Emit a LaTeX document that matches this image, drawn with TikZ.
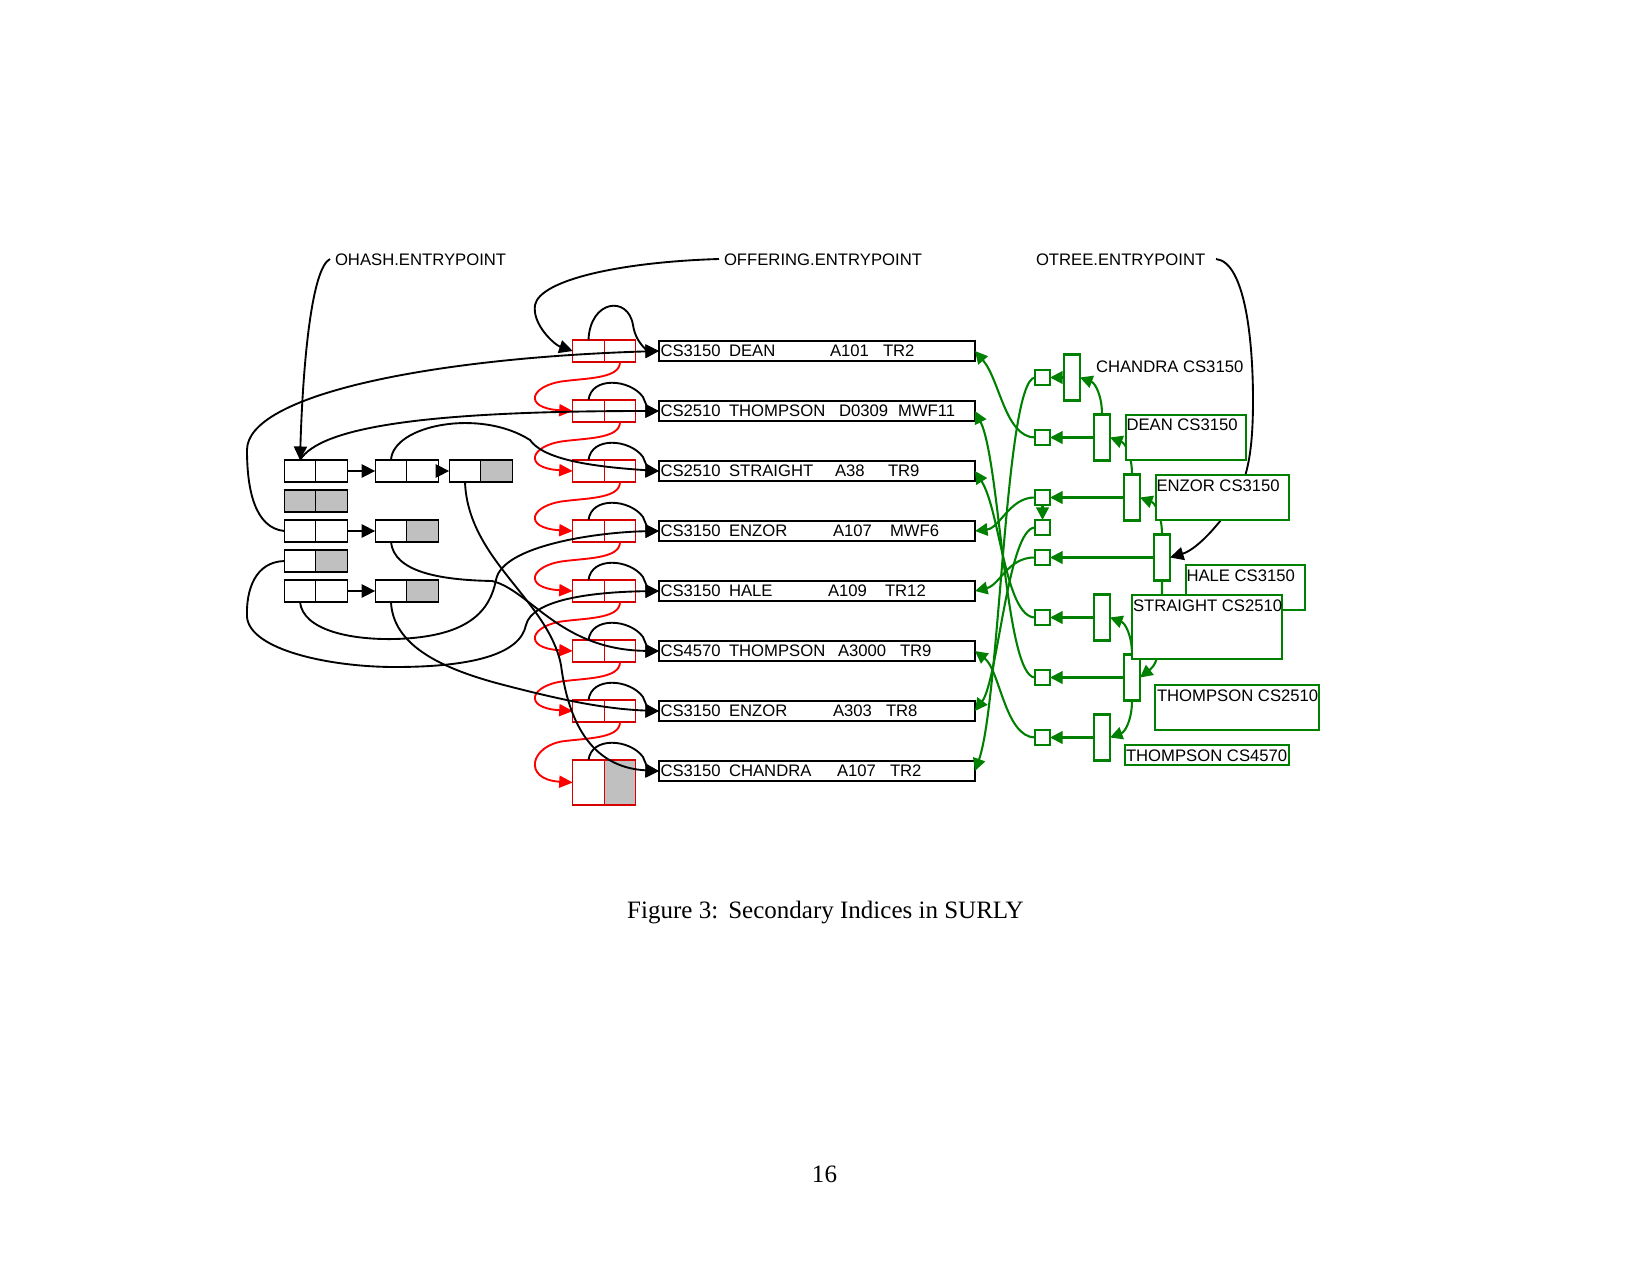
\documentclass[tikz,border=0pt]{standalone}
\usepackage{fontspec}
\setmainfont{Liberation Serif}
\newfontfamily\arialf{Liberation Sans}
\usetikzlibrary{arrows.meta}
\def\pu{0.4797pt}
\definecolor{gr}{RGB}{0,128,0}
\definecolor{silv}{RGB}{192,192,192}
\definecolor{rbox}{RGB}{215,0,0}
\tikzset{
 base/.style={inner sep=0pt, outer sep=0pt},
 hc/.style={base, draw, line width=0.7pt, minimum width=31.5*\pu, minimum height=22*\pu},
 hg/.style={hc, fill=silv},
 rc/.style={base, draw=rbox, line width=0.6pt, minimum width=31.5*\pu, minimum height=22*\pu},
 recbox/.style={base, draw, line width=0.9pt, minimum width=316*\pu, minimum height=20*\pu},
 sqn/.style={base, draw=gr, line width=1pt, minimum width=15*\pu, minimum height=15*\pu},
 tnode/.style={base, draw=gr, line width=1pt, minimum width=16*\pu, minimum height=46*\pu},
 lbox/.style={base, draw=gr, line width=0.5pt, fill=white, anchor=north west},
 txt/.style={base, anchor=base west, font=\arialf\fontsize{8}{9.6}\selectfont},
 blk/.style={black, line width=0.9pt, -{Triangle[length=6.5pt,width=6.3pt]}},
 rarr/.style={red, line width=0.9pt, -{Triangle[length=6.5pt,width=5.8pt]}},
 garr/.style={gr, line width=1pt, -{Triangle[length=6pt,width=6pt]}},
}
\begin{document}
\begin{tikzpicture}[x=\pu,y=-\pu]
\useasboundingbox (0,0) rectangle (1651,1275);

% titles
\node[txt] (ohash) at (335,265) {OHASH.ENTRYPOINT};
\node[txt] (offer) at (724,265) {OFFERING.ENTRYPOINT};
\node[txt] (otree) at (1036,265) {OTREE.ENTRYPOINT};
\coordinate (ohS) at (330,259);
\coordinate (ofS) at (719,259);
\coordinate (otS) at (1216,259);

% records
\foreach \i/\va/\vb/\vc/\vd/\ve/\vf in {
1/CS3150/DEAN/A101/830/TR2/883,
2/CS2510/THOMPSON/D0309/839/MWF11/898,
3/CS2510/STRAIGHT/A38/835/TR9/888,
4/CS3150/ENZOR/A107/833/MWF6/890,
5/CS3150/HALE/A109/828/TR12/885,
6/CS4570/THOMPSON/A3000/838/TR9/900,
7/CS3150/ENZOR/A303/833/TR8/886,
8/CS3150/CHANDRA/A107/837/TR2/890}{
 \pgfmathsetmacro\yc{351+60*(\i-1)}
 \node[recbox] (rec\i) at (817,\yc) {};
 \node[txt] (rcA\i) at (660.5,{\yc+5.5}) {\va};
 \node[txt] (rcB\i) at (729,{\yc+5.5}) {\vb};
 \node[txt] (rcC\i) at (\vd,{\yc+5.5}) {\vc};
 \node[txt] (rcD\i) at (\vf,{\yc+5.5}) {\ve};
}

% red offering list cells
\foreach \i in {1,...,7}{
 \pgfmathsetmacro\yc{351+60*(\i-1)}
 \node[rc] (rl\i) at (588.5,\yc) {};
 \node[rc] (rr\i) at (620,\yc) {};
}
\node[rc, minimum height=45*\pu] (rl8) at (588.5,782.5) {};
\node[rc, minimum height=45*\pu, fill=silv] (rr8) at (620,782.5) {};

% hash table
\node[hc] (h11a) at (300,471) {}; \node[hc] (h11b) at (331.5,471) {};
\node[hc] (h12a) at (391,471) {}; \node[hc] (h12b) at (422.5,471) {};
\node[hc] (h13a) at (465,471) {}; \node[hg] (h13b) at (496.5,471) {};
\node[hg] (h21a) at (300,501) {}; \node[hg] (h21b) at (331.5,501) {};
\node[hc] (h31a) at (300,531) {}; \node[hc] (h31b) at (331.5,531) {};
\node[hc] (h32a) at (391,531) {}; \node[hg] (h32b) at (422.5,531) {};
\node[hc] (h41a) at (300,561) {}; \node[hg] (h41b) at (331.5,561) {};
\node[hc] (h51a) at (300,591) {}; \node[hc] (h51b) at (331.5,591) {};
\node[hc] (h52a) at (391,591) {}; \node[hg] (h52b) at (422.5,591) {};
\draw[blk] (h11b.east) -- (h12a.west);
\draw[blk] (h12b.east) -- (h13a.west);
\draw[blk] (h31b.east) -- (h32a.west);
\draw[blk] (h51b.east) -- (h52a.west);

% tree pointer squares and tree nodes
\foreach \i/\y in {1/377.5,2/437.5,3/497.5,4/527.5,5/557.5,6/617.5,7/677.5,8/737.5}{
 \node[sqn] (sq\i) at (1042.5,\y) {};
}
\node[tnode] (T1) at (1072,377.5) {};
\node[tnode] (T2) at (1102,437.5) {};
\node[tnode] (T3) at (1132,497.5) {};
\node[tnode] (T4) at (1162,557.5) {};
\node[tnode] (T5) at (1102,617.5) {};
\node[tnode] (T6) at (1132,677.5) {};
\node[tnode] (T7) at (1102,737.5) {};

% entry points
\draw[blk] (ohS) .. controls (312,268) and (303,360) .. (h11a.north);
\draw[blk] (ofS) .. controls (620,262) and (540,280) .. (535,305) .. controls (532,325) and (555,345) .. (rl1.west);
\draw[blk] (otS) .. controls (1245,262) and (1253,340) .. (1253,400) .. controls (1253,450) and (1248,480) .. (1232,505) .. controls (1215,530) and (1195,550) .. (T4.east);

% self arcs red cell -> record
\draw[blk] (rl1.north) .. controls (590,300) and (628,295) .. (633,325) .. controls (636,345) and (650,351) .. (rec1.west);
\foreach \i in {2,...,8}{
 \pgfmathsetmacro\yc{351+60*(\i-1)}
 \draw[blk] (rl\i.north) .. controls +(3,-24) and (630,{\yc-32}) .. (643,{\yc-14}) .. controls (646,{\yc-6}) and (650,\yc) .. (rec\i.west);
}

% red next links
\foreach \i in {1,...,7}{
 \pgfmathsetmacro\b{362+60*(\i-1)}
 \pgfmathsetmacro\e{\i==7 ? 782.5 : \b+49}
 \pgfmathtruncatemacro\j{\i+1}
 \draw[rarr] (rr\i.south) .. controls +(0,16) and (590,{\b+16}) .. (565,{\b+19}) .. controls (530,{\b+23}) and (522,{\e-3}) .. (rl\j.west);
}

% hash pointers to records
\draw[blk] (h11a.north) .. controls (320,428) and (420,411) .. (rec2.west);
\draw[blk] (h12a.north) .. controls (393,425) and (480,408) .. (530,440) .. controls (542,457) and (580,466) .. (rec3.west);
\draw[blk] (h13a.south) .. controls (468,560) and (548,600) .. (561,665) .. controls (570,735) and (600,768) .. (rec8.west);
\draw[blk] (h31a.west) .. controls (255,528) and (247,490) .. (247,450) .. controls (247,395) and (430,358) .. (rec1.west);
\draw[blk] (h32a.south) .. controls (394,572) and (440,580) .. (492,581) .. controls (530,590) and (560,650) .. (rec6.west);
\draw[blk] (h41a.west) .. controls (255,562) and (246,590) .. (247,617) .. controls (250,650) and (330,667) .. (395,667) .. controls (470,667) and (520,655) .. (526,625) .. controls (532,600) and (590,592) .. (rec5.west);
\draw[blk] (h51a.south) .. controls (303,630) and (350,640) .. (395,639) .. controls (470,637) and (490,610) .. (496,580) .. controls (502,545) and (600,532) .. (rec4.west);
\draw[blk] (h52a.south) .. controls (393,645) and (440,668) .. (500,684) .. controls (550,697) and (600,709) .. (rec7.west);

% green: squares to records
\draw[garr] (sq1.west) .. controls (1005,380) and (1000,700) .. (rec8.east);
\draw[garr] (sq2.west) .. controls (1005,437) and (1000,380) .. (rec1.east);
\draw[garr] (sq3.west) .. controls (1010,497) and (1000,528) .. (rec4.east);
\draw[garr] (sq4.west) .. controls (1008,528) and (998,680) .. (rec7.east);
\draw[garr] (sq5.west) .. controls (1008,557) and (1000,585) .. (rec5.east);
\draw[garr] (sq6.west) .. controls (1005,617) and (1000,510) .. (rec3.east);
\draw[garr] (sq7.west) .. controls (1005,677) and (1000,460) .. (rec2.east);
\draw[garr] (sq8.west) .. controls (1005,737) and (1000,670) .. (rec6.east);

% green: tree nodes to squares
\draw[garr] (T1.west) -- (sq1.east);
\draw[garr] (T2.west) -- (sq2.east);
\draw[garr] (T3.west) -- (sq3.east);
\draw[garr] (sq3.south) -- (sq4.north);
\draw[garr] (T4.west) -- (sq5.east);
\draw[garr] (T5.west) -- (sq6.east);
\draw[garr] (T6.west) -- (sq7.east);
\draw[garr] (T7.west) -- (sq8.east);

% green: tree links
\draw[garr] (T2.north) .. controls (1102,395) and (1095,383) .. (T1.east);
\draw[garr] (T3.north) .. controls (1132,455) and (1125,443) .. (T2.east);
\draw[garr] (T4.north) .. controls (1162,515) and (1155,503) .. (T3.east);
\draw[garr] (T6.north) .. controls (1132,635) and (1125,623) .. (T5.east);
\draw[garr] (T6.south) .. controls (1132,720) and (1125,732) .. (T7.east);
\draw[garr] (T4.south) .. controls (1162,640) and (1160,662) .. (T6.east);

% labels
\node[txt] (lCH) at (1096,372) {CHANDRA CS3150};
\node[lbox, minimum width=120*\pu, minimum height=45*\pu] (bDE) at (1126,415) {};
\node[txt] (lDE) at (1126.5,430) {DEAN CS3150};
\node[lbox, minimum width=133*\pu, minimum height=45*\pu] (bEN) at (1156,475) {};
\node[txt] (lEN) at (1156.5,491) {ENZOR CS3150};
\node[lbox, minimum width=119*\pu, minimum height=45*\pu] (bHA) at (1186,565) {};
\node[txt] (lHA) at (1186.5,581) {HALE CS3150};
\node[lbox, minimum width=150*\pu, minimum height=64*\pu] (bST) at (1132,595) {};
\node[txt] (lST) at (1133,611) {STRAIGHT CS2510};
\node[lbox, minimum width=164*\pu, minimum height=45*\pu] (bT1) at (1155,685) {};
\node[txt] (lT1) at (1157,701) {THOMPSON CS2510};
\node[lbox, minimum width=164*\pu, minimum height=20*\pu] (bT2) at (1125,745) {};
\node[txt] (lT2) at (1126,761) {THOMPSON CS4570};

% caption and page number
\node[base, anchor=base, font=\fontsize{12}{14}\selectfont] (cap) at (825.5,918) {Figure 3:\hspace{4.8pt}Secondary Indices in SURLY};
\node[base, anchor=base, font=\fontsize{12}{14}\selectfont] (pnum) at (824.5,1182) {16};
\end{tikzpicture}
\end{document}
